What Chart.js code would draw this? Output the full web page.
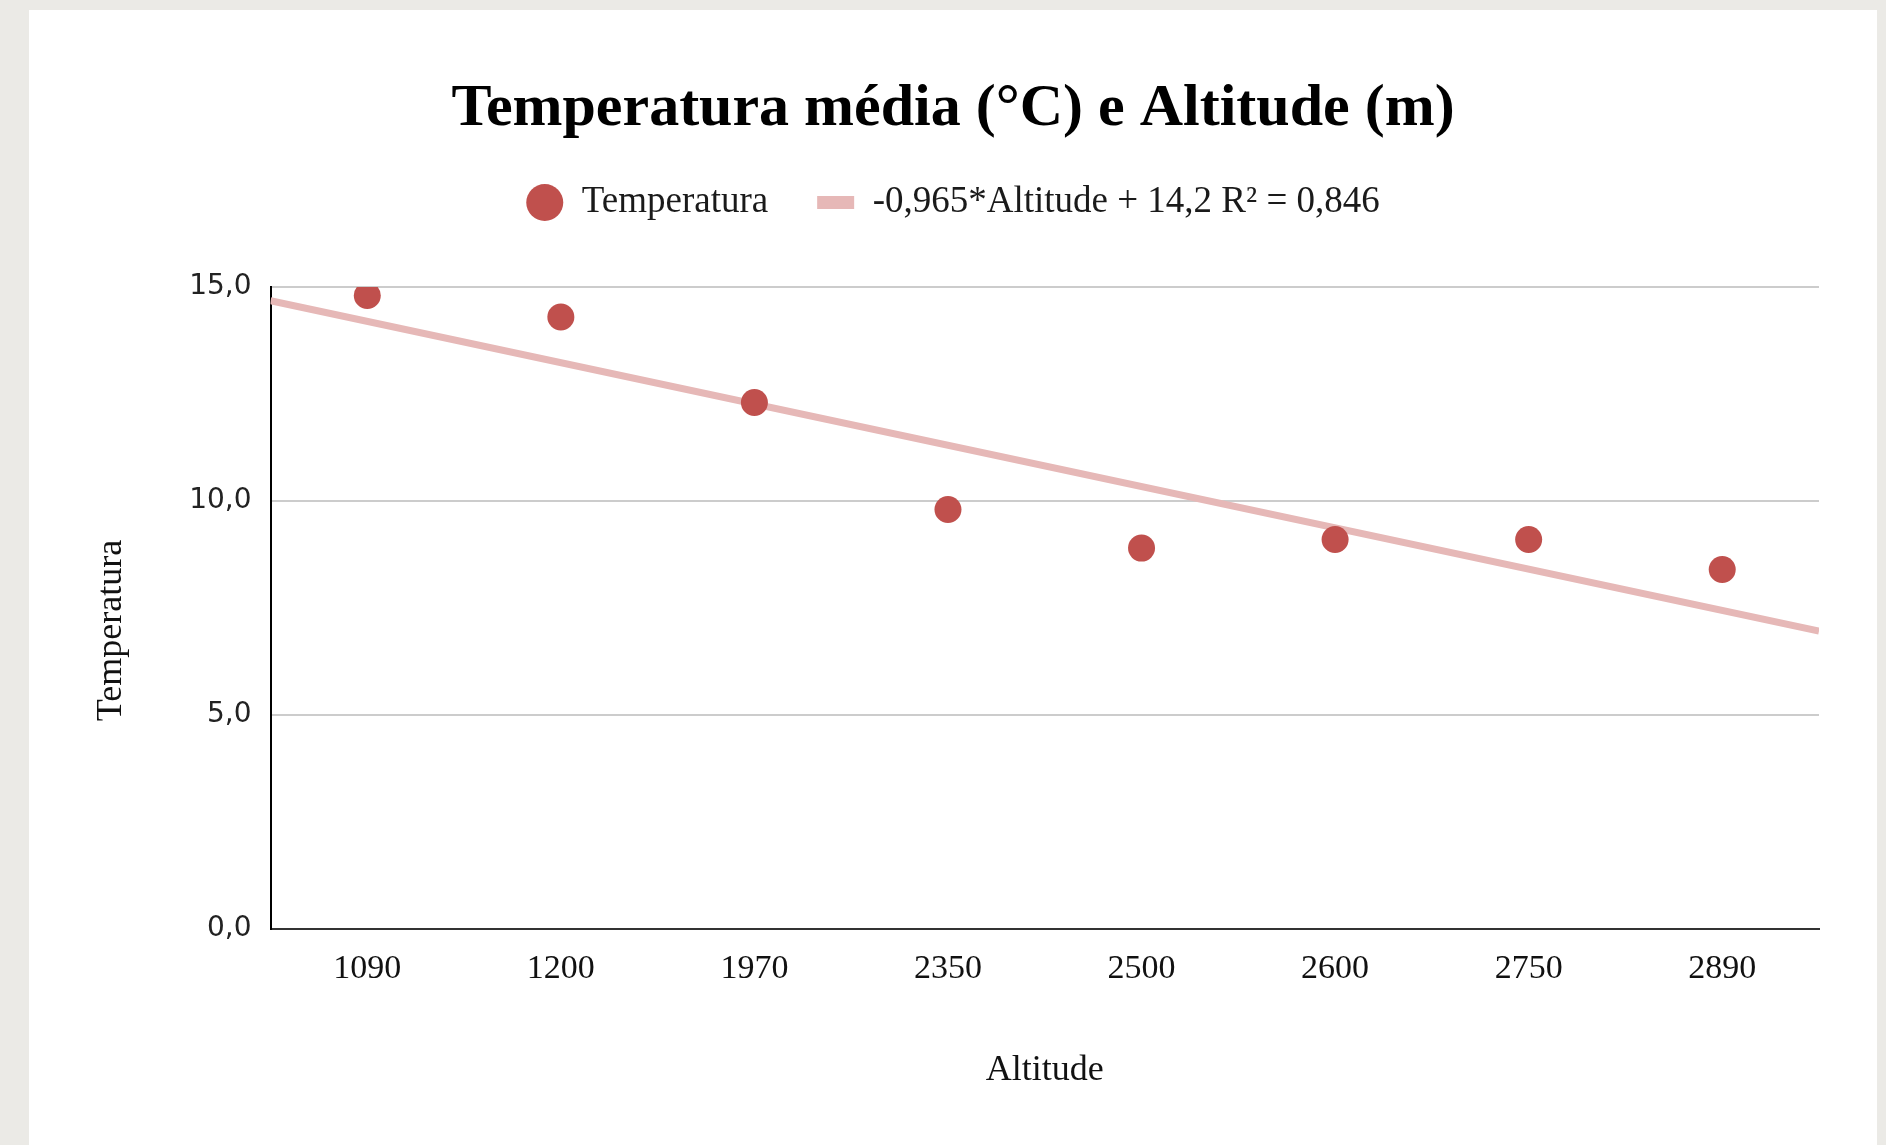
<!DOCTYPE html>
<html lang="pt">
<head>
<meta charset="utf-8">
<title>Temperatura média (°C) e Altitude (m)</title>
<script src="https://cdn.jsdelivr.net/npm/chart.js@4.4.1/dist/chart.umd.min.js"></script>
<style>
  html, body { margin: 0; padding: 0; background: #ebeae6; }
  .card {
    position: absolute;
    left: 29px;
    top: 10px;
    width: 1848px;
    height: 1135px;
    background: #fff;
  }
</style>
</head>
<body>
<div class="card">
  <canvas id="tempChart"></canvas>
</div>

<script>
// dados
const altitudes = ["1090", "1200", "1970", "2350", "2500", "2600", "2750", "2890"];
const temperaturas = [14.8, 14.3, 12.3, 9.8, 8.9, 9.1, 9.1, 8.4];
const yTicks = [0, 5, 10, 15];

// linha de tendência (extremos do eixo)
const trendLabel = "-0,965*Altitude + 14,2 R² = 0,846";
const trendX = [-0.5, 7.5];
const trendY = [14.68, 6.96];

const pointColor = "#c0504d";
const trendColor = "#e6b8b7";
const serif = "'Liberation Serif', 'Times New Roman', serif";

// deixa um espaço entre a legenda e o gráfico
const legendGap = {
  id: "legendGap",
  beforeInit(chart) {
    const fit = chart.legend.fit;
    chart.legend.fit = function () {
      fit.call(this);
      this.height += 56;
    };
  },
};

const ctx = document.getElementById("tempChart").getContext("2d");
new Chart(ctx, {
  data: {
    datasets: [
      {
        type: "scatter",
        label: "Temperatura",
        data: temperaturas.map((t, i) => ({ x: i, y: t })),
        backgroundColor: pointColor,
        borderColor: pointColor,
        borderWidth: 0,
        pointRadius: 13.5,
        pointHoverRadius: 13.5,
        order: 0,
      },
      {
        type: "line",
        label: trendLabel,
        data: trendX.map((x, i) => ({ x: x, y: trendY[i] })),
        borderColor: trendColor,
        backgroundColor: trendColor,
        borderWidth: 7,
        pointRadius: 0,
        fill: false,
        order: 1,
      },
    ],
  },
  options: {
    responsive: true,
    maintainAspectRatio: false,
    animation: false,
    layout: {
      padding: { left: 58, right: 58, top: 0, bottom: 0 },
    },
    plugins: {
      tooltip: { enabled: false },
      title: {
        display: true,
        text: "Temperatura média (°C) e Altitude (m)",
        color: "#000",
        font: { family: serif, size: 60, weight: "bold", lineHeight: 52 / 60 },
        padding: { top: 73, bottom: 0 },
      },
      legend: {
        position: "top",
        labels: {
          color: "#1a1a1a",
          font: { family: serif, size: 37 },
          usePointStyle: true,
          pointStyleWidth: 37,
          boxHeight: 26,
          padding: 49,
          generateLabels(chart) {
            const items = Chart.defaults.plugins.legend.labels.generateLabels(chart);
            items[0].pointStyle = "circle";
            items[0].lineWidth = 0;
            items[0].fillStyle = pointColor;
            items[1].pointStyle = "line";
            items[1].lineWidth = 13;
            items[1].strokeStyle = trendColor;
            return items;
          },
        },
      },
    },
    scales: {
      x: {
        type: "linear",
        min: -0.5,
        max: 7.5,
        afterBuildTicks(axis) {
          axis.ticks = altitudes.map((a, i) => ({ value: i }));
        },
        afterFit(axis) {
          axis.height = 216;
        },
        grid: { display: false, drawTicks: false },
        border: { display: true, color: "#333", width: 2 },
        ticks: {
          color: "#111",
          font: { family: serif, size: 34 },
          padding: 20,
          maxRotation: 0,
          autoSkip: false,
          callback: (value, index) => altitudes[index],
        },
        title: {
          display: true,
          text: "Altitude",
          color: "#111",
          font: { family: serif, size: 36 },
          padding: 53,
        },
      },
      y: {
        min: 0,
        max: 15,
        afterBuildTicks(axis) {
          axis.ticks = yTicks.map((v) => ({ value: v }));
        },
        afterFit(axis) {
          axis.width = 183.5;
        },
        grid: { color: "#cccccc", lineWidth: 2, drawTicks: false },
        border: { display: true, color: "#000", width: 2 },
        ticks: {
          color: "#222",
          font: { family: "'DejaVu Sans', sans-serif", size: 28 },
          padding: 19,
          callback: (value) => value.toFixed(1).replace(".", ","),
        },
        title: {
          display: true,
          text: "Temperatura     ",
          color: "#111",
          font: { family: serif, size: 36 },
          padding: 3,
        },
      },
    },
  },
  plugins: [legendGap],
});
</script>
</body>
</html>
